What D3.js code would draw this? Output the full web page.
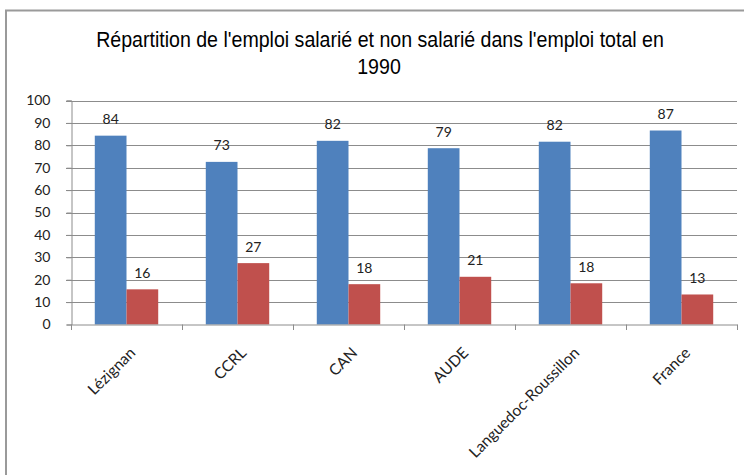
<!DOCTYPE html>
<html><head><meta charset="utf-8">
<script src="https://cdn.jsdelivr.net/npm/d3@7"></script>
<style>body{margin:0;background:#fff}</style>
</head><body>
<svg id="c" width="744" height="475"></svg>
<script>
const categories = ["Lézignan","CCRL","CAN","AUDE","Languedoc-Roussillon","France"];
const salarie = [84.3, 72.6, 82.0, 78.7, 81.6, 86.6];
const nonSalarie = [15.7, 27.4, 18.0, 21.3, 18.4, 13.4];
const yTicks = [0,10,20,30,40,50,60,70,80,90,100];
const titleLines = ["Répartition de l'emploi salarié et non salarié dans l'emploi total en","1990"];
const colors = ["#4F81BD","#C0504D"];

const svg = d3.select("#c");
// chart border
svg.append("path").attr("d","M6,475 V10.5 H744").attr("fill","none").attr("stroke","#9a9a9a").attr("stroke-width",2);

const tfont = "'Liberation Sans Narrow','Arial Narrow','Liberation Sans',sans-serif";
const t1 = svg.append("text").attr("text-anchor","middle")
  .attr("font-family",tfont).attr("font-size",22.5).attr("fill","#000").text(titleLines[0]);
const k = Math.min(1, 568 / t1.node().getComputedTextLength());
t1.attr("transform",`translate(380,47) scale(${k},1)`);
svg.append("text").attr("text-anchor","middle")
  .attr("font-family",tfont).attr("font-size",22.5).attr("fill","#000")
  .attr("transform",`translate(379,74) scale(${k},1)`).text(titleLines[1]);

const x0 = d3.scaleBand().domain(categories).range([71,737]).paddingInner(0).paddingOuter(0);
const x1 = d3.scaleBand().domain([0,1]).range([0,x0.bandwidth()]).paddingOuter(0.75).paddingInner(0);
const y = d3.scaleLinear().domain([0,100]).range([324.5,100.5]);

const font = "Lato,'Open Sans',sans-serif";
const fs = 14;
// gridlines
svg.append("g").selectAll("line").data(yTicks.slice(1)).join("line")
  .attr("x1",66).attr("x2",737).attr("y1",d=>Math.round(y(d))+0.5).attr("y2",d=>Math.round(y(d))+0.5)
  .attr("stroke","#8c8c8c").attr("stroke-width",1);
// y axis
const ya = svg.append("g").attr("transform","translate(71.5,0)")
  .call(d3.axisLeft(y).tickValues(yTicks).tickSize(5).tickPadding(16));
ya.select(".domain").attr("stroke","#8c8c8c");
ya.selectAll(".tick line").attr("stroke","#8c8c8c");
ya.selectAll(".tick text").attr("font-family",font).attr("font-size",fs).attr("fill","#222");

// bars
const series = [salarie, nonSalarie];
series.forEach((vals,s)=>{
  svg.append("g").selectAll("rect").data(vals).join("rect")
    .attr("x",(d,i)=>x0(categories[i])+x1(s))
    .attr("width",x1.bandwidth())
    .attr("y",d=>y(d)).attr("height",d=>y(0)-y(d))
    .attr("fill",colors[s]);
  svg.append("g").selectAll("text").data(vals).join("text")
    .attr("x",(d,i)=>x0(categories[i])+x1(s)+x1.bandwidth()/2)
    .attr("y",d=>y(d)-11.5)
    .attr("text-anchor","middle").attr("font-family",font).attr("font-size",fs).attr("fill","#222")
    .text(d=>d3.format(".0f")(d));
});

// x axis
const xa = svg.append("g").attr("transform","translate(0,324.5)")
  .call(d3.axisBottom(x0).tickSize(0).tickPadding(0));
xa.select(".domain").attr("stroke","#8c8c8c");
xa.selectAll(".tick text").remove();
// category boundary ticks
svg.append("g").selectAll("line").data(d3.range(categories.length+1)).join("line")
  .attr("x1",i=>Math.round(71+i*x0.step())+0.5).attr("x2",i=>Math.round(71+i*x0.step())+0.5)
  .attr("y1",324.5).attr("y2",330).attr("stroke","#8c8c8c");
// rotated labels
svg.append("g").selectAll("text").data(categories).join("text")
  .attr("transform",d=>`translate(${x0(d)+x0.bandwidth()/2+6},${350}) rotate(-45)`)
  .attr("text-anchor","end").attr("dy","0.35em")
  .attr("font-family",font).attr("font-size",15.5).attr("fill","#222")
  .text(d=>d);
</script>
</body></html>
